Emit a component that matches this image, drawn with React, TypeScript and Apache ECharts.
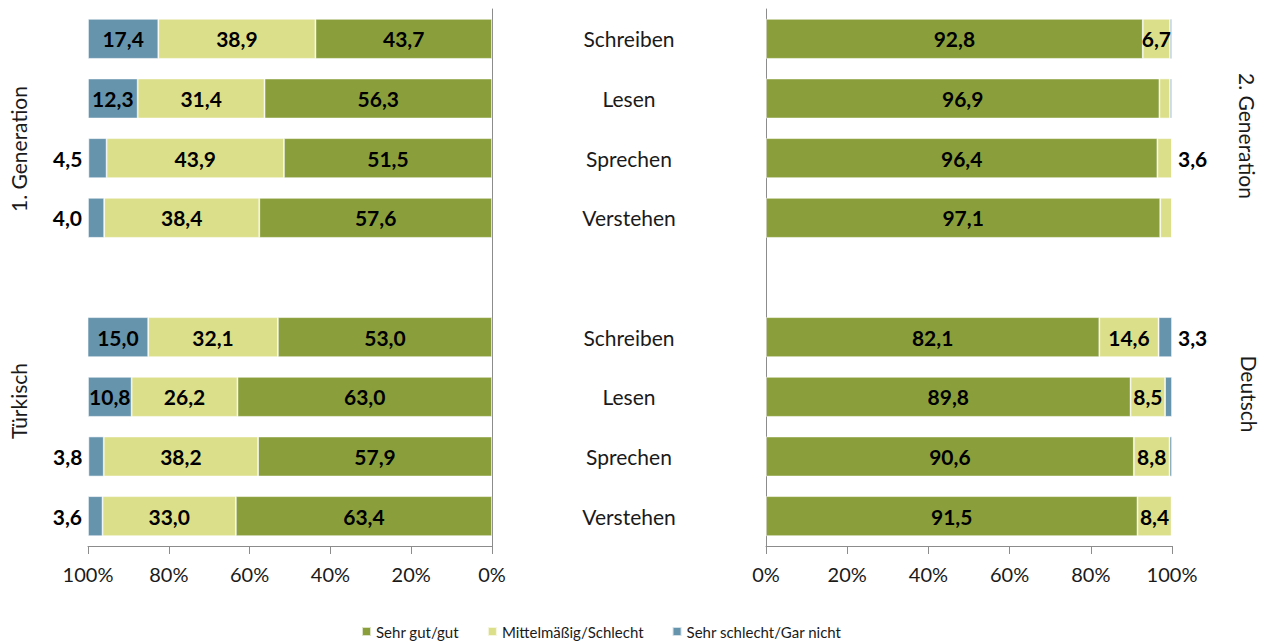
import React, { useEffect, useRef } from "react";
import * as echarts from "echarts";

const categories = ["Schreiben", "Lesen", "Sprechen", "Verstehen", "", "Schreiben", "Lesen", "Sprechen", "Verstehen"];
const seriesNames = ["Sehr gut/gut", "Mittelmäßig/Schlecht", "Sehr schlecht/Gar nicht"];
const tickValues = [0, 20, 40, 60, 80, 100];

// Left panel (1. Generation / Türkisch)
const leftGood = [43.7, 56.3, 51.5, 57.6, null, 53.0, 63.0, 57.9, 63.4];
const leftMid = [38.9, 31.4, 43.9, 38.4, null, 32.1, 26.2, 38.2, 33.0];
const leftBad = [17.4, 12.3, 4.5, 4.0, null, 15.0, 10.8, 3.8, 3.6];

// Right panel (2. Generation / Deutsch)
const rightGood = [92.8, 96.9, 96.4, 97.1, null, 82.1, 89.8, 90.6, 91.5];
const rightMid = [6.7, 2.6, 3.6, 2.9, null, 14.6, 8.5, 8.8, 8.4];
const rightBad = [0.5, 0.5, 0, 0, null, 3.3, 1.7, 0.6, 0.1];

const groupLabels = ["1. Generation", "Türkisch", "2. Generation", "Deutsch"];

const colors = ["#8a9f3b", "#dcdf8a", "#6794ad"];
const FONT = "Lato";

const fmt = (v: number) => v.toFixed(1).replace(".", ",");

function buildData(values: (number | null)[], outsidePos: string) {
  return values.map((v) => {
    if (v === null) return "-";
    if (v >= 5) return { value: v, label: { show: true, position: "inside" } };
    if (v >= 3) return { value: v, label: { show: true, position: outsidePos, distance: 6 } };
    return { value: v, label: { show: false } };
  });
}

function makeSeries(name: string, idx: number, values: (number | null)[], side: 0 | 1) {
  return {
    name,
    type: "bar",
    xAxisIndex: side,
    yAxisIndex: side,
    stack: side === 0 ? "L" : "R",
    barWidth: 40,
    itemStyle: { color: colors[idx], borderColor: "rgba(255,255,255,0.7)", borderWidth: 0.8 },
    label: {
      show: true,
      color: "#000",
      fontFamily: FONT,
      fontWeight: "bold",
      fontSize: 21,
      formatter: (p: any) => fmt(p.value),
    },
    data: buildData(values, side === 0 ? "left" : "right"),
  };
}

export default function App() {
  const ref = useRef<HTMLDivElement>(null);
  useEffect(() => {
    if (!ref.current) return;
    const chart = echarts.init(ref.current, null, { renderer: "svg" });
    const axisLineColor = "#8c8c8c";
    const xAxisBase = (gridIndex: number, inverse: boolean) => ({
      gridIndex,
      type: "value",
      min: tickValues[0],
      max: tickValues[tickValues.length - 1],
      interval: 20,
      inverse,
      axisLine: { show: true, onZero: false, lineStyle: { color: axisLineColor, width: 1 } },
      axisTick: { show: true, length: 8, lineStyle: { color: axisLineColor } },
      splitLine: { show: false },
      axisLabel: {
        formatter: "{value}%",
        fontFamily: FONT,
        fontSize: 20,
        color: "#1a1a1a",
        margin: 18,
      },
    });
    chart.setOption({
      animation: false,
      backgroundColor: "#fff",
      textStyle: { fontFamily: FONT },
      grid: [
        { left: 88, width: 404, top: 9, height: 537 },
        { left: 766, width: 406, top: 9, height: 537 },
      ],
      xAxis: [xAxisBase(0, true), xAxisBase(1, false)],
      yAxis: [
        {
          gridIndex: 0,
          type: "category",
          data: categories,
          inverse: true,
          position: "right",
          axisLine: { show: true, onZero: false, lineStyle: { color: axisLineColor } },
          axisTick: { show: false },
          axisLabel: { show: false },
        },
        {
          gridIndex: 1,
          type: "category",
          data: categories,
          inverse: true,
          position: "left",
          axisLine: { show: true, onZero: false, lineStyle: { color: axisLineColor } },
          axisTick: { show: false },
          axisLabel: {
            show: true,
            align: "center",
            margin: 137,
            fontFamily: FONT,
            fontSize: 21,
            color: "#1a1a1a",
          },
        },
      ],
      legend: {
        data: seriesNames,
        left: 356,
        top: 619,
        itemWidth: 9,
        itemHeight: 9,
        itemGap: 28,
        icon: "rect",
        textStyle: { fontFamily: FONT, fontSize: 15, color: "#1a1a1a" },
      },
      graphic: [
        { type: "text", x: 18, y: 149, rotation: Math.PI / 2, style: { text: groupLabels[0], fontFamily: FONT, fontSize: 21, fill: "#1a1a1a", textAlign: "center", textVerticalAlign: "middle" } },
        { type: "text", x: 18, y: 401, rotation: Math.PI / 2, style: { text: groupLabels[1], fontFamily: FONT, fontSize: 21, fill: "#1a1a1a", textAlign: "center", textVerticalAlign: "middle" } },
        { type: "text", x: 1247, y: 136, rotation: -Math.PI / 2, style: { text: groupLabels[2], fontFamily: FONT, fontSize: 21, fill: "#1a1a1a", textAlign: "center", textVerticalAlign: "middle" } },
        { type: "text", x: 1249, y: 394, rotation: -Math.PI / 2, style: { text: groupLabels[3], fontFamily: FONT, fontSize: 21, fill: "#1a1a1a", textAlign: "center", textVerticalAlign: "middle" } },
      ],
      series: [
        makeSeries(seriesNames[0], 0, leftGood, 0),
        makeSeries(seriesNames[1], 1, leftMid, 0),
        makeSeries(seriesNames[2], 2, leftBad, 0),
        makeSeries(seriesNames[0], 0, rightGood, 1),
        makeSeries(seriesNames[1], 1, rightMid, 1),
        makeSeries(seriesNames[2], 2, rightBad, 1),
      ],
    });
    return () => chart.dispose();
  }, []);
  return <div ref={ref} style={{ position: "fixed", left: 0, top: 0, width: 1267, height: 644 }} />;
}
